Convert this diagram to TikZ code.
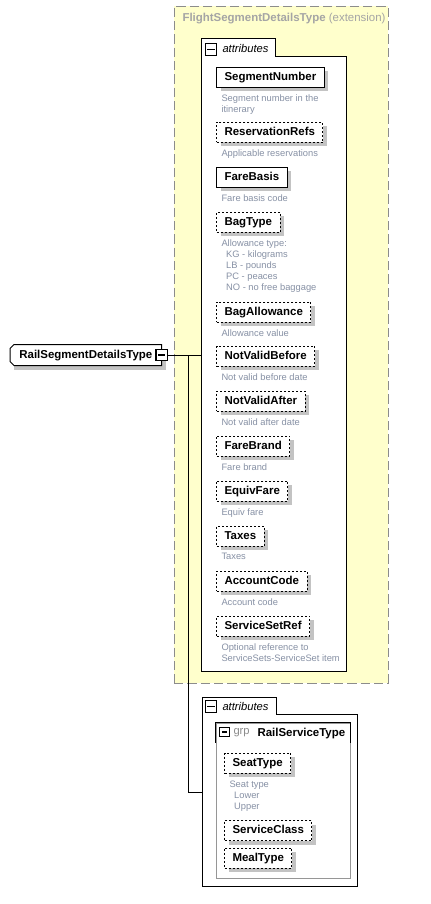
\documentclass[tikz,border=0pt]{standalone}
\usepackage{fontspec}
\setmainfont{Liberation Sans}
\usetikzlibrary{shadows,fit}

\definecolor{extfill}{RGB}{255,255,204}
\definecolor{extline}{RGB}{140,140,140}
\definecolor{extgray}{RGB}{165,165,165}
\definecolor{descgray}{RGB}{135,145,165}
\definecolor{shadowgray}{RGB}{195,195,195}
\definecolor{grpline}{RGB}{150,150,150}
\definecolor{grpgray}{RGB}{140,140,140}

\tikzset{every picture/.style={line width=0.75pt}}
\tikzset{
  elembase/.style={anchor=west, inner xsep=6pt, inner ysep=0pt,
    minimum height=15pt, text height=6.2pt, text depth=1.6pt,
    font=\fontsize{8.6}{10}\selectfont\bfseries},
  elem/.style={elembase, draw, fill=white,
    general shadow={fill=shadowgray, shadow xshift=3pt, shadow yshift=-3pt}},
  optelem/.style={elem, dash pattern=on 1.5pt off 1.5pt},
  desc/.style={anchor=north west, inner sep=0pt, align=left, text=descgray,
    font=\fontsize{7}{8.25}\selectfont},
  minusbox/.style={draw, fill=white, inner sep=0pt, minimum size=8.5pt, line width=0.9pt,
    path picture={\draw[line width=1pt] ([xshift=1.6pt]path picture bounding box.west) -- ([xshift=-1.6pt]path picture bounding box.east);}},
  tablabel/.style={anchor=west, inner sep=0pt, font=\fontsize{8.4}{10}\selectfont\itshape},
}

\begin{document}
\begin{tikzpicture}[x=0.75pt,y=0.75pt,yscale=-1,xscale=1]
\useasboundingbox (0,0) rectangle (431,904);

%Extension base type
\node[fit={(174,6) (388,683)}, inner sep=0pt, draw=extline, fill=extfill, dash pattern=on 7pt off 3pt] (ext) {};
\node[anchor=west, inner sep=0pt, text=extgray, font=\fontsize{8.6}{10}\selectfont] (exttitle) at (182,19) {\textbf{FlightSegmentDetailsType} (extension)};

%Upper attributes
\node[fit={(202,57) (346,671)}, inner sep=0pt] (attrs) {};
\draw[fill=white] (attrs.south west) |- (275,38) |- (attrs.north east) -- (attrs.south east) -- cycle;
\node[minusbox] (attrsminus) at (211,49.5) {};
\node[tablabel] (attrslabel) at (222,48) {attributes};

\node[elem] (segnum) at (216,77) {SegmentNumber};
\node[desc] (dsegnum) at (221,94) {Segment number in the\\itinerary};
\node[optelem] (resrefs) at (216,132) {ReservationRefs};
\node[desc] (dresrefs) at (221,149) {Applicable reservations};
\node[elem] (farebasis) at (216,177) {FareBasis};
\node[desc] (dfarebasis) at (221,194) {Fare basis code};
\node[optelem] (bagtype) at (216,222) {BagType};
\node[desc] (dbagtype) at (221,239) {Allowance type:\\\hspace*{3.5pt}KG - kilograms\\\hspace*{3.5pt}LB - pounds\\\hspace*{3.5pt}PC - peaces\\\hspace*{3.5pt}NO - no free baggage};
\node[optelem] (bagallow) at (216,312) {BagAllowance};
\node[desc] (dbagallow) at (221,329) {Allowance value};
\node[optelem] (nvbefore) at (216,356) {NotValidBefore};
\node[desc] (dnvbefore) at (221,373) {Not valid before date};
\node[optelem] (nvafter) at (216,401) {NotValidAfter};
\node[desc] (dnvafter) at (221,418) {Not valid after date};
\node[optelem] (farebrand) at (216,446) {FareBrand};
\node[desc] (dfarebrand) at (221,463) {Fare brand};
\node[optelem] (equivfare) at (216,491) {EquivFare};
\node[desc] (dequivfare) at (221,508) {Equiv fare};
\node[optelem] (taxes) at (216,536) {Taxes};
\node[desc] (dtaxes) at (221,553) {Taxes};
\node[optelem] (acccode) at (216,581) {AccountCode};
\node[desc] (dacccode) at (221,598) {Account code};
\node[optelem] (svcsetref) at (216,626) {ServiceSetRef};
\node[desc] (dsvcsetref) at (221,643) {Optional reference to\\ServiceSets-ServiceSet item};

%Lower attributes
\node[fit={(203,715) (357,886)}, inner sep=0pt] (attrs2) {};
\draw[fill=white] (attrs2.south west) |- (276,697) |- (attrs2.north east) -- (attrs2.south east) -- cycle;
\node[minusbox] (attrs2minus) at (211,706.5) {};
\node[tablabel] (attrs2label) at (222,706) {attributes};

%Group
\node[fit={(216,723) (350,878)}, inner sep=0pt, draw=grpline] (grp) {};
\draw (grp.north west) ++(0,20) -- (grp.north west) -- (grp.north east) -- ++(0,20);
\node[minusbox, minimum size=7pt] (grpminus) at (224.5,732) {};
\node[anchor=west, inner sep=0pt, text=grpgray, font=\fontsize{8.4}{10}\selectfont] (grpkw) at (233,733) {grp};
\node[anchor=west, inner sep=0pt, font=\fontsize{8.6}{10}\selectfont\bfseries] (grpname) at (257,733.5) {RailServiceType};

\node[optelem] (seattype) at (224,763) {SeatType};
\node[desc] (dseattype) at (229,780) {Seat type\\\hspace*{3.5pt}Lower\\\hspace*{3.5pt}Upper};
\node[optelem] (svcclass) at (224,830.5) {ServiceClass};
\node[optelem] (mealtype) at (224,858) {MealType};

%Root type
\node[elembase, minimum width=113pt] (rail) at (10,355) {RailSegmentDetailsType};
\fill[shadowgray] ([shift={(4,4)}]rail.north west) rectangle ([shift={(4,4)}]rail.south east);
\draw[fill=white] ([shift={(4,0)}]rail.north west) -- (rail.north east) -- (rail.south east) -- ([shift={(4,0)}]rail.south west)
  -- ([shift={(0,-4)}]rail.south west) -- ([shift={(0,4)}]rail.north west) -- cycle;
\node[elembase, minimum width=113pt] (railtext) at (10,355) {RailSegmentDetailsType};
\node[minusbox] (railminus) at (rail.east) {};

%Connectors
\coordinate (fork) at (188,355);
\coordinate (forkend) at (188,792);
\draw (railminus.east) -- (railminus.east -| attrs.west);
\draw (fork) -- (forkend) -- (forkend -| attrs2.west);

\end{tikzpicture}
\end{document}
